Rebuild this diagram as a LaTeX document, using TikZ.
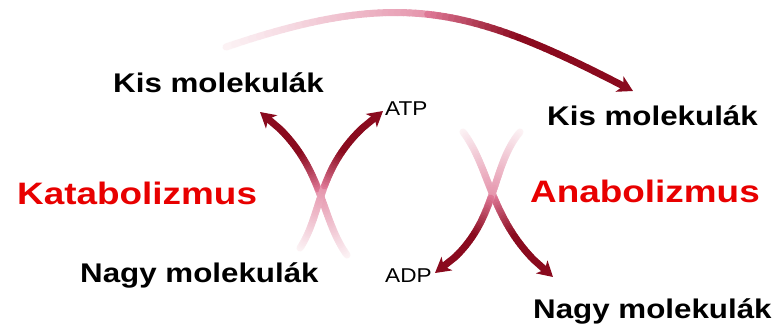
\documentclass[tikz,border=0pt]{standalone}
\usepackage{fontspec}
\usepackage{graphicx}
\setmainfont{Liberation Sans}
\usetikzlibrary{arrows.meta}

\definecolor{flowred}{RGB}{138,10,30}
\definecolor{flowpink}{RGB}{222,120,150}
\definecolor{labelred}{RGB}{232,0,0}

\tikzset{
  molname/.style={font=\fontsize{27}{30}\selectfont\bfseries, anchor=base west, inner sep=0pt},
  procname/.style={font=\fontsize{31}{34}\selectfont\bfseries, text=labelred, anchor=base west, inner sep=0pt},
  energy/.style={font=\fontsize{20}{22}\selectfont, anchor=base west, inner sep=0pt},
  flowline/.style={line width=7pt, line cap=round},
  flowhead/.style={line width=7pt, -{Stealth[length=15pt,width=17pt,inset=4pt]}},
}

% A thick curved arrow whose colour deepens from a pale pink tail to a dark red head.
% #1 tail, #2 and #3 control points, #4 tip, #5 step where the head begins
\newcommand\fadearrow[5]{%
  \foreach \k in {0,...,60}{%
    \pgfmathsetmacro\tpos{\k/60}%
    \path (#1) .. controls (#2) and (#3) .. (#4) coordinate[pos=\tpos] (#4-\k);%
  }%
  \foreach \k in {1,...,#5}{%
    \pgfmathtruncatemacro\prev{\k-1}%
    \pgfmathsetmacro\segt{\k/60}%
    \ifdim\segt pt<0.5pt
      \pgfmathtruncatemacro\amt{8+144*\segt}%
      \def\segcol{flowpink!\amt!white}%
    \else
      \pgfmathtruncatemacro\amt{min(100,400*(\segt-0.5))}%
      \def\segcol{flowred!\amt!flowpink}%
    \fi
    \draw[flowline, color=\segcol] (#4-\prev) -- (#4-\k);%
  }%
  \draw[flowhead, color=flowred] (#4-#5) -- (#4-60);%
}

\begin{document}
\begin{tikzpicture}[x=1pt, y=-1pt]
  \useasboundingbox (0,0) rectangle (778,326);
  \fill[white] (0,0) rectangle (778,326);

  % labels
  \node[molname] (kisL)  at (113,93)  {\scalebox{1.16}[1]{Kis molekulák}};
  \node[molname] (kisR)  at (547,125) {\scalebox{1.16}[1]{Kis molekulák}};
  \node[molname] (nagyL) at (80,282)  {\scalebox{1.16}[1]{Nagy molekulák}};
  \node[molname] (nagyR) at (533,318) {\scalebox{1.16}[1]{Nagy molekulák}};
  \node[procname] (katab) at (17,204)  {\scalebox{1.19}[1]{Katabolizmus}};
  \node[procname] (anab)  at (530,202) {\scalebox{1.19}[1]{Anabolizmus}};
  \node[energy] (atp) at (385,115) {\scalebox{1.13}[1]{ATP}};
  \node[energy] (adp) at (385,282) {\scalebox{1.13}[1]{ADP}};

  % catabolism: two crossing arrows rising to the products
  \coordinate (catA0) at (347,255); \coordinate (catA1) at (318,215);
  \coordinate (catA2) at (325,160); \coordinate (catA3) at (260,112);
  \coordinate (catB0) at (300,248); \coordinate (catB1) at (325,210);
  \coordinate (catB2) at (315,160); \coordinate (catB3) at (383,111);
  \fadearrow{catA0}{catA1}{catA2}{catA3}{53}
  \fadearrow{catB0}{catB1}{catB2}{catB3}{53}

  % anabolism: two crossing arrows descending to the products
  \coordinate (anaC0) at (463,132); \coordinate (anaC1) at (492,170);
  \coordinate (anaC2) at (490,228); \coordinate (anaC3) at (553,277);
  \coordinate (anaD0) at (520,132); \coordinate (anaD1) at (488,170);
  \coordinate (anaD2) at (500,230); \coordinate (anaD3) at (435,273);
  \fadearrow{anaC0}{anaC1}{anaC2}{anaC3}{53}
  \fadearrow{anaD0}{anaD1}{anaD2}{anaD3}{53}

  % small molecules carried over from catabolism to anabolism
  \coordinate (arc0) at (226,47);  \coordinate (arc1) at (400,-12);
  \coordinate (arc2) at (470,6);   \coordinate (arc3) at (633,91);
  \fadearrow{arc0}{arc1}{arc2}{arc3}{57}
\end{tikzpicture}
\end{document}
